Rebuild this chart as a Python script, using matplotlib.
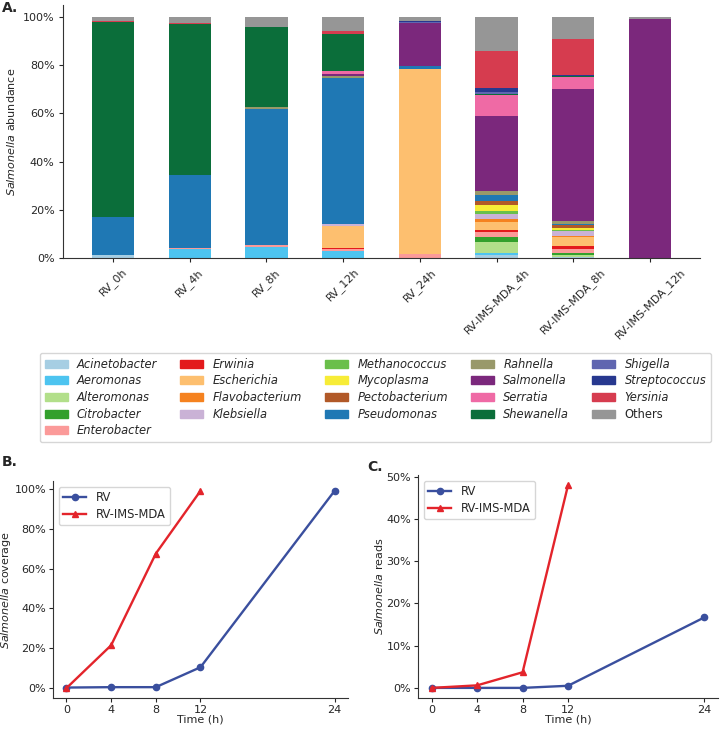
import matplotlib
matplotlib.use("Agg")
import matplotlib.pyplot as plt
from matplotlib.patches import Patch
from matplotlib.ticker import PercentFormatter

plt.rcParams["font.family"] = ["DejaVu Sans"]
plt.rcParams["mathtext.fontset"] = "dejavusans"
plt.rcParams["text.color"] = "#262626"
plt.rcParams["axes.labelcolor"] = "#262626"
plt.rcParams["xtick.color"] = "#262626"
plt.rcParams["ytick.color"] = "#262626"
plt.rcParams["axes.edgecolor"] = "#333333"

# ---- panel A data (% abundance per sample) ----
samples = ["RV_0h", "RV_4h", "RV_8h", "RV_12h", "RV_24h",
           "RV-IMS-MDA_4h", "RV-IMS-MDA_8h", "RV-IMS-MDA_12h"]

Acinetobacter  = [1.1, 0.0, 0.0, 0.0, 0.0, 1.1, 0.3, 0.0]
Aeromonas      = [0.0, 3.9, 4.6, 2.9, 0.0, 1.0, 0.0, 0.0]
Alteromonas    = [0.3, 0.0, 0.0, 0.0, 0.0, 4.7, 1.1, 0.0]
Citrobacter    = [0.0, 0.0, 0.0, 0.0, 0.0, 1.7, 0.7, 0.0]
Enterobacter   = [0.0, 0.4, 0.7, 0.8, 1.5, 2.1, 1.8, 0.0]
Erwinia        = [0.0, 0.0, 0.0, 0.6, 0.0, 1.2, 1.1, 0.0]
Escherichia    = [0.0, 0.0, 0.0, 9.1, 76.8, 3.3, 3.7, 0.0]
Flavobacterium = [0.0, 0.0, 0.0, 0.0, 0.0, 1.1, 0.4, 0.0]
Klebsiella     = [0.0, 0.0, 0.0, 0.8, 0.0, 2.1, 2.0, 0.0]
Methanococcus  = [0.0, 0.0, 0.0, 0.0, 0.0, 1.1, 0.5, 0.0]
Mycoplasma     = [0.0, 0.0, 0.0, 0.0, 0.0, 2.6, 0.8, 0.0]
Pectobacterium = [0.0, 0.0, 0.0, 0.0, 0.0, 1.5, 1.4, 0.0]
Pseudomonas    = [15.8, 30.0, 56.7, 60.6, 1.4, 2.8, 0.2, 0.0]
Rahnella       = [0.0, 0.0, 0.5, 0.8, 0.0, 1.5, 1.4, 0.0]
Salmonella     = [0.0, 0.0, 0.0, 0.8, 17.8, 31.1, 54.6, 99.2]
Serratia       = [0.0, 0.0, 0.0, 1.1, 0.0, 8.9, 5.1, 0.0]
Shewanella     = [80.6, 62.9, 33.2, 15.5, 0.0, 0.4, 0.3, 0.0]
Shigella       = [0.0, 0.0, 0.0, 0.0, 0.3, 0.8, 0.0, 0.0]
Streptococcus  = [0.0, 0.0, 0.0, 0.0, 0.5, 1.7, 0.5, 0.0]
Yersinia       = [0.4, 0.4, 0.0, 1.4, 0.0, 15.1, 14.8, 0.0]
Others         = [1.8, 2.4, 4.3, 5.6, 1.7, 14.2, 9.3, 0.8]

genera = ["Acinetobacter", "Aeromonas", "Alteromonas", "Citrobacter", "Enterobacter",
          "Erwinia", "Escherichia", "Flavobacterium", "Klebsiella", "Methanococcus",
          "Mycoplasma", "Pectobacterium", "Pseudomonas", "Rahnella", "Salmonella",
          "Serratia", "Shewanella", "Shigella", "Streptococcus", "Yersinia", "Others"]
abundance = [Acinetobacter, Aeromonas, Alteromonas, Citrobacter, Enterobacter,
             Erwinia, Escherichia, Flavobacterium, Klebsiella, Methanococcus,
             Mycoplasma, Pectobacterium, Pseudomonas, Rahnella, Salmonella,
             Serratia, Shewanella, Shigella, Streptococcus, Yersinia, Others]
colors = ["#a6cee3", "#4dc4f0", "#b2df8a", "#33a02c", "#fb9a99",
          "#e31a1c", "#fdbf6f", "#f5821f", "#cab2d6", "#6abf4b",
          "#f7ec37", "#b15928", "#1f78b4", "#99996a", "#7b287c",
          "#ef6aa5", "#0b6e3a", "#6066b0", "#27388f", "#d63c4f", "#969696"]

# ---- panels B and C data ----
time_rv = [0, 4, 8, 12, 24]
time_mda = [0, 4, 8, 12]
coverage_rv = [0.3, 0.5, 0.5, 10.5, 99.0]
coverage_mda = [0.0, 21.5, 67.5, 99.0]
reads_rv = [0.0, 0.0, 0.0, 0.5, 16.7]
reads_mda = [0.0, 0.6, 3.7, 48.0]

blue = "#3a4f9e"
red = "#e3242b"

fig = plt.figure(figsize=(7.2, 7.3), dpi=100)

# ---- A ----
ax = fig.add_axes([0.0875, 0.6466, 0.8847, 0.3466])
x = list(range(len(samples)))
bottom = [0.0] * len(samples)
for name, vals, c in zip(genera, abundance, colors):
    ax.bar(x, vals, 0.55, bottom=bottom, color=c, label=name)
    bottom = [b + v for b, v in zip(bottom, vals)]
ax.set_xticks(x)
ax.set_xticklabels(samples, rotation=45)
ax.yaxis.set_major_formatter(PercentFormatter(100, decimals=0))
ax.set_yticks([0, 20, 40, 60, 80, 100])
ax.set_ylabel(r"$\it{Salmonella}$ abundance", fontsize=8)
ax.tick_params(labelsize=8, length=3, pad=3)
for s in ["top", "right"]:
    ax.spines[s].set_visible(False)

handles = [Patch(color=c) for c in colors]
leg = fig.legend(handles, genera, ncol=5, loc="upper left",
                 bbox_to_anchor=(40 / 720, 1 - 353 / 730), fontsize=8.3,
                 borderaxespad=0, labelspacing=0.32)
for t in leg.get_texts():
    if t.get_text() != "Others":
        t.set_style("italic")

fig.text(0.002, 0.999, "A.", fontsize=10, weight="bold", va="top")


def line_panel(rect, y_rv, y_mda, ylabel):
    a = fig.add_axes(rect)
    a.plot(time_rv, y_rv, color=blue, marker="o", markersize=4.5, lw=1.7, label="RV")
    a.plot(time_mda, y_mda, color=red, marker="^", markersize=4.5, lw=1.7, label="RV-IMS-MDA")
    a.set_xticks([0, 4, 8, 12, 24])
    a.yaxis.set_major_formatter(PercentFormatter(100, decimals=0))
    a.set_xlabel("Time (h)", fontsize=8, labelpad=0)
    a.set_ylabel(ylabel, fontsize=8, labelpad=1)
    a.tick_params(labelsize=8, length=3, pad=2)
    for s in ["top", "right"]:
        a.spines[s].set_visible(False)
    a.legend(loc="upper left", fontsize=8.3, labelspacing=0.3)
    return a


axb = line_panel([0.0736, 0.0438, 0.4097, 0.2973], coverage_rv, coverage_mda,
                 r"$\it{Salmonella}$ coverage")
axb.set_yticks([0, 20, 40, 60, 80, 100])
fig.text(0.002, 1 - 455 / 730, "B.", fontsize=10, weight="bold", va="top")

axc = line_panel([0.5806, 0.0438, 0.4167, 0.3055], reads_rv, reads_mda,
                 r"$\it{Salmonella}$ reads")
axc.set_yticks([0, 10, 20, 30, 40, 50])
fig.text(367 / 720, 1 - 460 / 730, "C.", fontsize=10, weight="bold", va="top")

fig.savefig("out.png", dpi=100)
